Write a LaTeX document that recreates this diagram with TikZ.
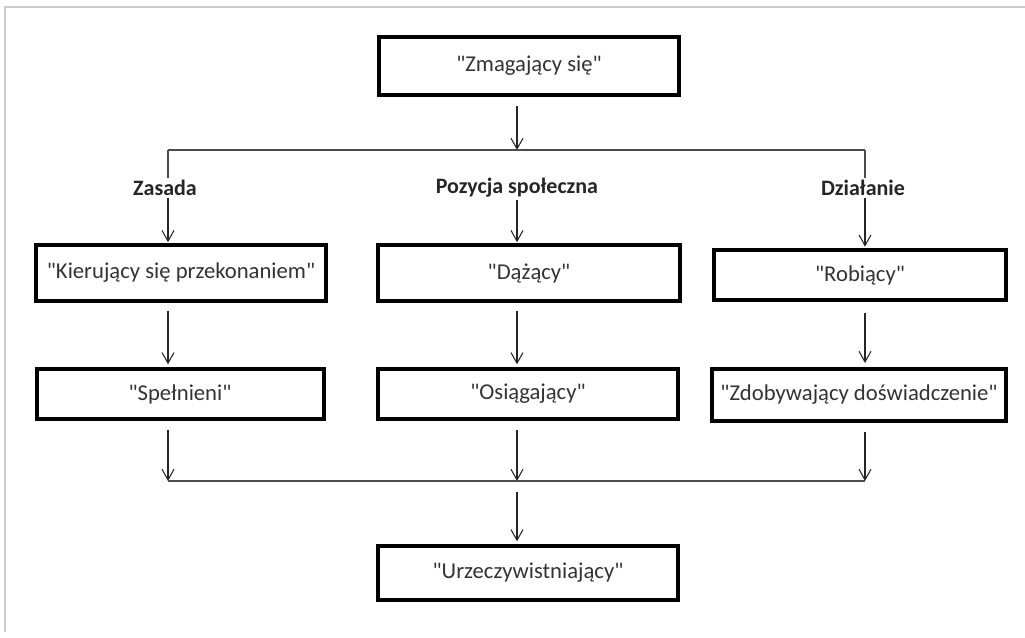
\documentclass[tikz,border=0pt]{standalone}
\usepackage{fontspec}
\setmainfont{Carlito}[Ligatures=TeXOff]
\usetikzlibrary{arrows.meta}
\begin{document}
\begin{tikzpicture}[x=0.75pt,y=-0.75pt,
  box/.style={draw=black, line width=3pt, inner sep=0pt, font=\fontsize{17}{20}\selectfont, text=black!80},
  lab/.style={font=\bfseries\fontsize{16.5}{20}\selectfont, text=black!85, inner sep=1.5pt},
  arr/.style={-{Straight Barb[length=8pt,width=9pt,line width=0.8pt]}, line width=0.8pt, draw=black!85},
  ln/.style={line width=0.9pt, draw=black!70},
  frame/.style={draw=black!20, line width=1.5pt}]
\useasboundingbox (0,0) rectangle (1025,638);
\draw[frame] (5,632) -- (5,7) -- (1025,7);
% columns
\coordinate (cl) at (168,0);
\coordinate (cm) at (517,0);
\coordinate (cr) at (865,0);
% nodes
\node[box, minimum width=225pt, minimum height=43.5pt] (top) at (529,66) {"Zmagający się"};
\node[lab] (zas) at (165,188) {Zasada};
\node[lab] (poz) at (517,188) {Pozycja społeczna};
\node[lab] (dzi) at (863,188) {Działanie};
\node[box, minimum width=217.5pt, minimum height=41.25pt] (kie) at (181,273) {"Kierujący się przekonaniem"};
\node[box, minimum width=226.5pt, minimum height=41.25pt] (daz) at (529,273) {"Dążący"};
\node[box, minimum width=219pt, minimum height=37.5pt] (rob) at (860,275) {"Robiący"};
\node[box, minimum width=215.25pt, minimum height=37.5pt] (spe) at (180,394) {"Spełnieni"};
\node[box, minimum width=225pt, minimum height=37.5pt] (osi) at (528,394) {"Osiągający"};
\node[box, minimum width=220.5pt, minimum height=39pt] (zdo) at (859,395) {"Zdobywający doświadczenie"};
\node[box, minimum width=225pt, minimum height=40.5pt] (urz) at (528,573) {"Urzeczywistniający"};
% junctions
\coordinate (jtl) at (168,150);
\coordinate (jtm) at (517,150);
\coordinate (jtr) at (865,150);
\coordinate (jbl) at (168,481);
\coordinate (jbm) at (517,481);
\coordinate (jbr) at (865,481);
% top part
\draw[arr, shorten <=7pt] (top.south -| cm) -- (jtm);
\draw[ln] (jtl) -- (jtr);
\draw[ln] (jtl) -- (zas.north -| jtl);
\draw[ln] (jtr) -- (dzi.north -| jtr);
\draw[arr, shorten >=1pt] (zas.south -| cl) -- (kie.north -| cl);
\draw[arr, shorten >=1pt] (poz.south -| cm) -- (daz.north -| cm);
\draw[arr, shorten >=1pt] (dzi.south -| cr) -- (rob.north -| cr);
% middle
\draw[arr, shorten <=6pt, shorten >=2pt] (kie.south -| cl) -- (spe.north -| cl);
\draw[arr, shorten <=6pt, shorten >=2pt] (daz.south -| cm) -- (osi.north -| cm);
\draw[arr, shorten <=8pt, shorten >=3pt] (rob.south -| cr) -- (zdo.north -| cr);
% bottom
\draw[arr, shorten <=7pt] (spe.south -| cl) -- (jbl);
\draw[arr, shorten <=7pt] (osi.south -| cm) -- (jbm);
\draw[arr, shorten <=7pt] (zdo.south -| cr) -- (jbr);
\draw[ln] (jbl) -- (jbr);
\draw[arr, shorten <=8pt, shorten >=2pt] (jbm) -- (urz.north -| jbm);
\end{tikzpicture}
\end{document}
